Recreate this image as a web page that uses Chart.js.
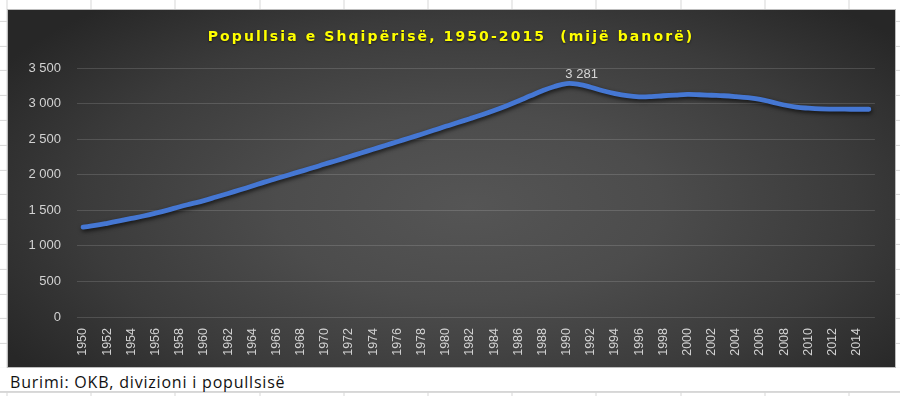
<!DOCTYPE html>
<html>
<head>
<meta charset="utf-8">
<script src="https://cdn.jsdelivr.net/npm/chart.js@4/dist/chart.umd.min.js"></script>
<style>
  html, body { margin:0; padding:0; }
  body {
    width:900px; height:396px; overflow:hidden; position:relative; background-color:#fff;
    background-image:
      repeating-linear-gradient(to right, #d6d6d6 0px, #d6d6d6 1px, transparent 1px, transparent 84.2px),
      repeating-linear-gradient(to bottom, #d6d6d6 0px, #d6d6d6 1px, transparent 1px, transparent 24.8px);
    background-position: 6.5px 0, 0 -4.1px;
  }
  #box {
    position:absolute; left:8px; top:10px; width:887px; height:357px;
    background: radial-gradient(ellipse 62% 75% at 52% 55%, #555555 0%, #4c4c4c 35%, #3b3b3b 70%, #272727 100%);
    box-shadow: 0 0 0 1px #bdbdbd;
  }
  #title {
    position:absolute; left:0; top:28px; width:902px; text-align:center;
    font: bold 14px "DejaVu Sans", sans-serif; letter-spacing:2.1px; color:#ffff00;
    text-shadow: 0 1px 2px rgba(0,0,0,0.6);
  }
  #caprow { position:absolute; left:0; top:368px; width:900px; height:23px; background:#fff; border-bottom:1px solid #d6d6d6; }
  #caption {
    position:absolute; left:10px; top:371px; font: 16px "Open Sans", sans-serif; letter-spacing:0.8px; color:#111; white-space:nowrap;
  }
</style>
</head>
<body>
<div id="caprow"></div>
<div id="box"><canvas id="c"></canvas></div>
<div id="title">Popullsia e Shqipërisë, 1950-2015&nbsp; (mijë banorë)</div>
<div id="caption">Burimi: OKB, divizioni i popullsisë</div>
<script>
const years = ['1950','1951','1952','1953','1954','1955','1956','1957','1958','1959',
  '1960','1961','1962','1963','1964','1965','1966','1967','1968','1969',
  '1970','1971','1972','1973','1974','1975','1976','1977','1978','1979',
  '1980','1981','1982','1983','1984','1985','1986','1987','1988','1989',
  '1990','1991','1992','1993','1994','1995','1996','1997','1998','1999',
  '2000','2001','2002','2003','2004','2005','2006','2007','2008','2009',
  '2010','2011','2012','2013','2014','2015'];
const population = [1263,1287,1317,1350,1385,1420,1460,1503,1550,1593,
  1636,1686,1736,1788,1841,1896,1946,1997,2047,2097,
  2150,2200,2252,2305,2358,2411,2463,2516,2570,2624,
  2680,2733,2787,2843,2903,2967,3036,3109,3180,3240,
  3281,3270,3230,3180,3140,3110,3095,3098,3110,3120,
  3128,3124,3117,3110,3098,3083,3060,3020,2980,2950,
  2935,2925,2922,2921,2920,2920];
const yTickValues = [0,500,1000,1500,2000,2500,3000,3500];
const peakLabel = '3 281';

function fmt(v){
  if (v < 1000) return String(v);
  return Math.floor(v/1000) + ' ' + String(v % 1000).padStart(3,'0');
}

const shadowPlugin = {
  id:'lineShadow',
  beforeDatasetDraw(chart){
    const c = chart.ctx; c.save();
    c.shadowColor = 'rgba(0,0,0,0.7)'; c.shadowBlur = 4; c.shadowOffsetX = 1; c.shadowOffsetY = 2;
  },
  afterDatasetDraw(chart){ chart.ctx.restore(); }
};
const peakPlugin = {
  id:'peakLabel',
  afterDatasetsDraw(chart){
    const data = chart.data.datasets[0].data;
    let idx = 0; data.forEach((v,i)=>{ if (v > data[idx]) idx = i; });
    const pt = chart.getDatasetMeta(0).data[idx];
    const c = chart.ctx; c.save();
    c.font = '13px "Liberation Sans", Arial, sans-serif';
    c.fillStyle = '#d6d6d6'; c.textAlign = 'center'; c.textBaseline = 'bottom';
    c.fillText(peakLabel, pt.x + 15, pt.y - 3);
    c.restore();
  }
};

new Chart(document.getElementById('c'), {
  type:'line',
  data:{ labels: years, datasets:[{
    data: population, borderColor:'#4577d3', borderWidth:4.8, pointRadius:0,
    tension:0.4, fill:false, borderCapStyle:'round', borderJoinStyle:'round'
  }]},
  plugins:[shadowPlugin, peakPlugin],
  options:{
    responsive:true, maintainAspectRatio:false, animation:false,
    layout:{ padding:{ top:58, right:20, bottom:0, left:0 } },
    plugins:{ legend:{display:false}, tooltip:{enabled:false}, title:{display:false} },
    scales:{
      x:{
        offset:true,
        grid:{ display:false, drawTicks:false },
        border:{ display:false },
        afterFit(s){ s.height = 50; },
        ticks:{
          autoSkip:false, minRotation:90, maxRotation:90, padding:11,
          color:'#d2d2d2', font:{ family:'"Liberation Sans", Arial, sans-serif', size:12.5 },
          callback:(v,i)=> i % 2 === 0 ? years[i] : ''
        }
      },
      y:{
        min:0, max:3500,
        afterBuildTicks(s){ s.ticks = yTickValues.map(v=>({value:v})); },
        afterFit(s){ s.width = 69; },
        grid:{ color:'rgba(255,255,255,0.14)', lineWidth:1, drawTicks:false },
        border:{ display:false },
        ticks:{ padding:16, color:'#d2d2d2', font:{ family:'"Liberation Sans", Arial, sans-serif', size:13 }, callback:v=>fmt(v) }
      }
    }
  }
});
</script>
</body>
</html>
